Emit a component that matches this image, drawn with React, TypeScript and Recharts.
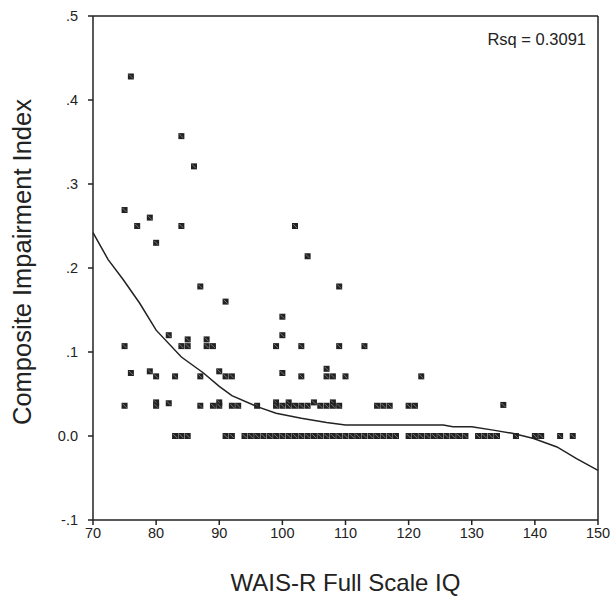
import React from "react";
import {
  ScatterChart,
  Scatter,
  XAxis,
  YAxis,
  ReferenceLine,
} from "recharts";

type Pt = [number, number];

// [IQ, composite impairment index]
const upperPoints: Pt[] = [
  [76, 0.428], [84, 0.357], [86, 0.321], [75, 0.269], [79, 0.26],
  [77, 0.25], [84, 0.25], [102, 0.25], [80, 0.23], [104, 0.214],
  [87, 0.178], [109, 0.178], [91, 0.16], [100, 0.142], [82, 0.12], [100, 0.12],
];

const row107: Pt[] = [
  [75, 0.107], [84, 0.107], [85, 0.107], [88, 0.107], [89, 0.107],
  [99, 0.107], [103, 0.107], [109, 0.107], [113, 0.107], [85, 0.115], [88, 0.115],
];

const row071: Pt[] = [
  [76, 0.075], [79, 0.077], [80, 0.071], [83, 0.071], [87, 0.071],
  [90, 0.077], [91, 0.071], [92, 0.071], [100, 0.075], [103, 0.071],
  [107, 0.08], [107, 0.071], [108, 0.071], [110, 0.071], [122, 0.071],
];

const row036: Pt[] = [
  [75, 0.036], [80, 0.04], [80, 0.036], [82, 0.039], [87, 0.036],
  [89, 0.036], [90, 0.04], [90, 0.036], [92, 0.036], [93, 0.036],
  [96, 0.036], [99, 0.04], [99, 0.036], [100, 0.036], [101, 0.04],
  [101, 0.036], [102, 0.036], [103, 0.036], [104, 0.036], [105, 0.04],
  [106, 0.036], [107, 0.036], [108, 0.04], [108, 0.036], [109, 0.036],
  [115, 0.036], [116, 0.036], [117, 0.036], [120, 0.036], [121, 0.036],
  [135, 0.037],
];

// IQ values with an index of 0.0
const zeroRowIq = [
  83, 84, 85, 91, 92,
  94, 95, 96, 97, 98, 99, 100, 101, 102, 103, 104, 105, 106, 107, 108,
  109, 110, 111, 112, 113, 114, 115, 116, 117, 118,
  120, 121, 122, 123, 124, 125, 126, 127, 128, 129,
  131, 132, 133, 134, 137, 140, 141, 144, 146,
];

// fitted curve
const fitIq = [70, 72.4, 74.8, 77.4, 80, 84, 87.5, 90, 92, 96, 99, 103, 107, 110, 118, 125.5, 127, 130, 133.4, 136.6, 139.8, 143.5, 146.6, 150];
const fitCii = [0.242, 0.21, 0.186, 0.158, 0.126, 0.094, 0.075, 0.059, 0.048, 0.035, 0.027, 0.021, 0.016, 0.013, 0.013, 0.013, 0.011, 0.011, 0.007, 0.003, -0.003, -0.013, -0.027, -0.041];

const xDomain = [70, 150];
const yDomain = [-0.1, 0.5];
const xTicks = [70, 80, 90, 100, 110, 120, 130, 140, 150];
const yTicks = [-0.1, 0, 0.1, 0.2, 0.3, 0.4, 0.5];
const yTickLabels = ["-.1", "0.0", ".1", ".2", ".3", ".4", ".5"];

const rsqText = "Rsq = 0.3091";
const xTitle = "WAIS-R Full Scale IQ";
const yTitle = "Composite Impairment Index";

const ink = "#222";
const font = "'Liberation Sans', Arial, sans-serif";

const points = [
  ...upperPoints,
  ...row107,
  ...row071,
  ...row036,
  ...zeroRowIq.map((iq): Pt => [iq, 0]),
].map(([iq, cii]) => ({ iq, cii }));

const fitData = fitIq.map((iq, i) => ({ iq, cii: fitCii[i] }));

function Marker(props: any) {
  const { cx, cy } = props;
  if (cx == null || cy == null) return <g />;
  return (
    <g>
      <rect x={cx - 3} y={cy - 3} width={6} height={6} fill={ink} />
      <line x1={cx - 2} y1={cy - 2} x2={cx + 2} y2={cy + 2} stroke="#999" strokeWidth={0.7} />
    </g>
  );
}

const frameLine = { stroke: ink, strokeWidth: 1.5 };

export default function App() {
  return (
    <div style={{ position: "absolute", left: 0, top: 0, width: 610, height: 603, background: "#fff" }}>
      <ScatterChart
        width={610}
        height={603}
        margin={{ top: 15, right: 11, bottom: 0, left: 0 }}
        style={{ fontFamily: font }}
      >
        <XAxis
          type="number"
          dataKey="iq"
          domain={xDomain}
          ticks={xTicks}
          height={83}
          tickSize={5}
          tickMargin={3}
          axisLine={frameLine}
          tickLine={frameLine}
          tick={{ fill: ink, fontSize: 14.5, fontFamily: font }}
          label={{
            content: () => (
              <text x={345.5} y={591} textAnchor="middle" fontSize={24} fill={ink} fontFamily={font}>
                {xTitle}
              </text>
            ),
          }}
        />
        {/* mirrored axes give the top and right edges of the box */}
        <XAxis
          xAxisId="top"
          orientation="top"
          type="number"
          dataKey="iq"
          domain={xDomain}
          ticks={xTicks}
          height={1}
          tick={false}
          tickLine={false}
          axisLine={frameLine}
        />
        <YAxis
          type="number"
          dataKey="cii"
          domain={yDomain}
          ticks={yTicks}
          width={93}
          tickSize={5}
          tickMargin={10}
          tickFormatter={(v: number) => yTickLabels[yTicks.findIndex((t) => Math.abs(t - v) < 1e-9)] ?? ""}
          axisLine={frameLine}
          tickLine={frameLine}
          tick={{ fill: ink, fontSize: 14.5, fontFamily: font }}
          label={{
            content: () => (
              <text
                transform="translate(31,262) rotate(-90)"
                textAnchor="middle"
                fontSize={25.5}
                fill={ink}
                fontFamily={font}
              >
                {yTitle}
              </text>
            ),
          }}
        />
        <YAxis
          yAxisId="right"
          orientation="right"
          type="number"
          dataKey="cii"
          domain={yDomain}
          ticks={yTicks}
          width={1}
          tick={false}
          tickLine={false}
          axisLine={frameLine}
        />
        <ReferenceLine
          y={yDomain[1]}
          stroke="none"
          ifOverflow="visible"
          label={{
            content: () => (
              <text x={586} y={45} textAnchor="end" fontSize={16.5} fill={ink} fontFamily={font}>
                {rsqText}
              </text>
            ),
          }}
        />
        <Scatter data={points} shape={<Marker />} isAnimationActive={false} />
        <Scatter
          data={fitData}
          xAxisId="top"
          yAxisId="right"
          line={{ stroke: ink, strokeWidth: 1.5 }}
          lineType="joint"
          shape={() => <g />}
          isAnimationActive={false}
        />
      </ScatterChart>
    </div>
  );
}
